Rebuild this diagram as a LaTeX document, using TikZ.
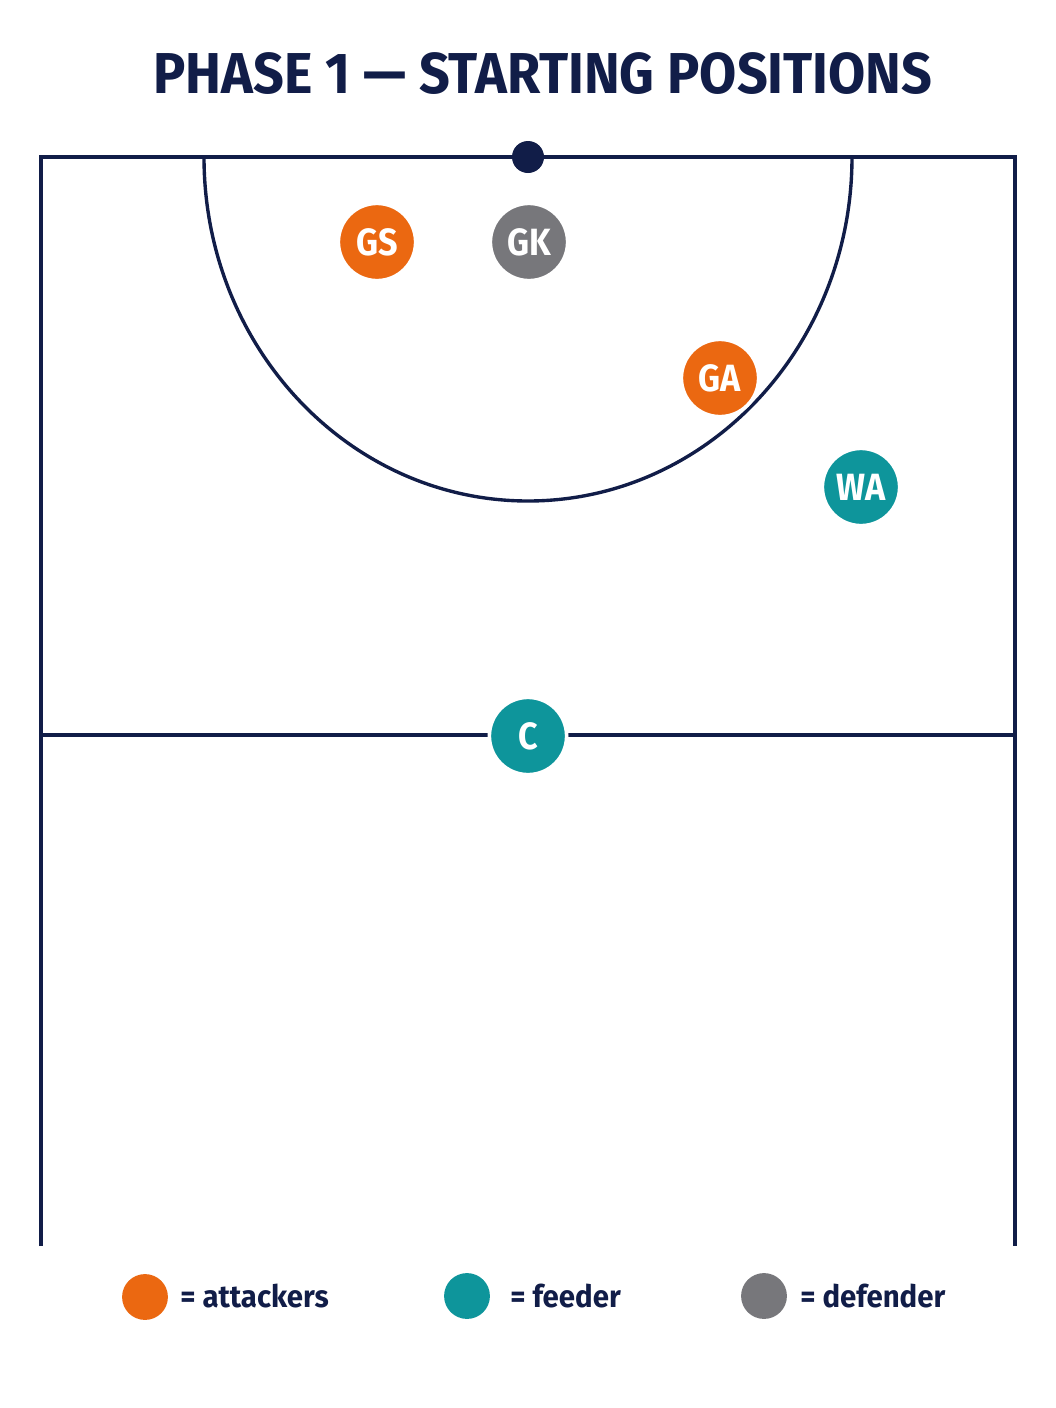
\documentclass[tikz,border=0pt]{standalone}
\usepackage{fontspec}
\setmainfont{Fira Sans}[FakeStretch=0.9]
\newfontfamily\titlefont{Fira Sans}[FakeStretch=0.935]
\newfontfamily\keyfont{Fira Sans}[FakeStretch=0.95]
\usetikzlibrary{positioning}

\definecolor{courtnavy}{HTML}{111D48}
\definecolor{attackorange}{HTML}{EB6811}
\definecolor{feederteal}{HTML}{0E959B}
\definecolor{defendgrey}{HTML}{77777B}

\tikzset{
  courtline/.style={draw=courtnavy, line width=2.4pt},
  player/.style={circle, draw=white, line width=2.6pt, minimum size=55pt,
    inner sep=0pt, text=white, font=\fontsize{27}{27}\selectfont\bfseries},
  keydot/.style={circle, minimum size=32.6pt, inner sep=0pt},
  keytext/.style={anchor=base west, inner sep=0pt, text=courtnavy,
    font=\keyfont\fontsize{22}{22}\selectfont\bfseries}
}

\begin{document}
\begin{tikzpicture}[x=0.025cm, y=-0.025cm]
            \useasboundingbox (0,0) rectangle (1056,1408);
            \fill[white] (0,0) rectangle (1056,1408);

            % title
            \node[anchor=base, text=courtnavy, font=\titlefont\fontsize{41}{41}\selectfont\bfseries] (title) at (543,93) {PHASE 1 — STARTING POSITIONS};

            % court outline
            \coordinate (TL) at (41,157);
            \coordinate (TR) at (1015,157);
            \coordinate (BL) at (41,1246);
            \coordinate (BR) at (1015,1246);
            \coordinate (ML) at (41,735);
            \coordinate (MR) at (1015,735);
            \coordinate (GP) at (528,157);

            \draw[courtline] (BL) -- (TL) -- (TR) -- (BR);
            \draw[courtline] (ML) -- (MR);
            \draw[courtline] (204,157) arc[start angle=180, end angle=0, x radius=324, y radius=344];
            \fill[courtnavy] (GP) circle (16);

            % players
            \node[player, fill=attackorange] (GS) at (377,242) {GS};
            \node[player, fill=defendgrey] (GK) at (529,242) {GK};
            \node[player, fill=attackorange] (GA) at (720,378) {GA};
            \node[player, fill=feederteal] (WA) at (861,487) {WA};
            \node[player, fill=feederteal] (C) at (528,736) {C};

            % key
            \node[keydot, fill=attackorange] (KA) at (145,1297) {};
            \node[keydot, fill=feederteal] (KF) at (467,1296) {};
            \node[keydot, fill=defendgrey] (KD) at (764,1296) {};
            \node[keytext] (KAt) at (180,1307) {= attackers};
            \node[keytext] (KFt) at (510,1307) {= feeder};
            \node[keytext] (KDt) at (800,1307) {= defender};

        \end{tikzpicture}
\end{document}
